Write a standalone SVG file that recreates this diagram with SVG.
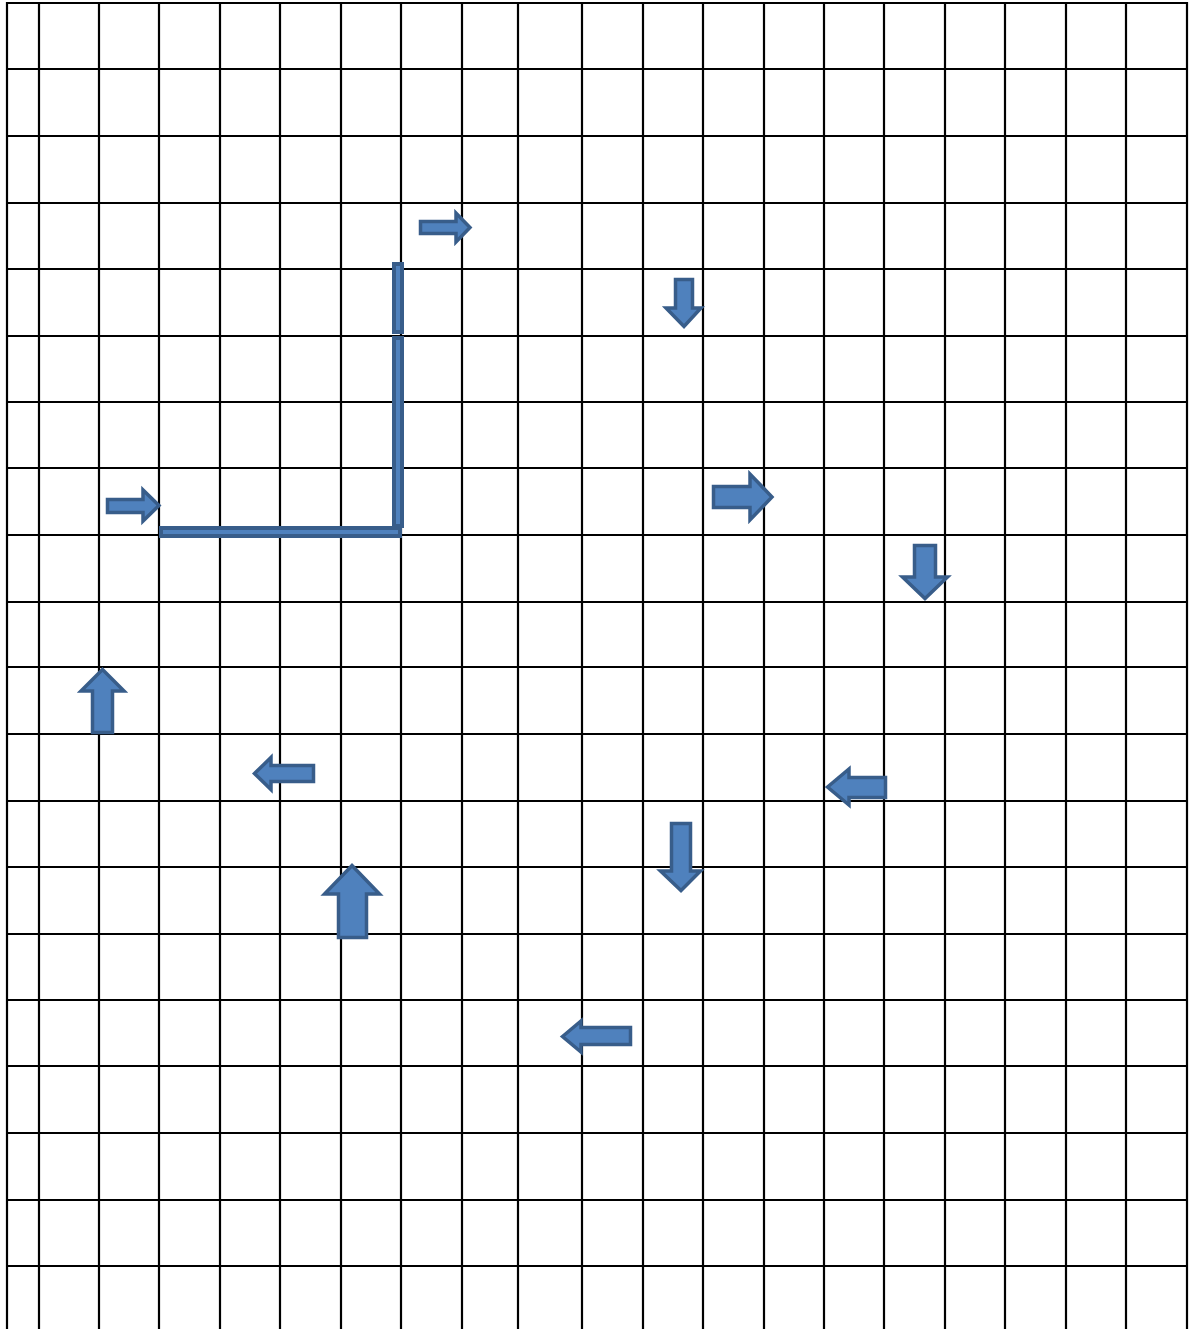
<svg xmlns="http://www.w3.org/2000/svg" width="1191" height="1329" viewBox="0 0 1191 1329">
<style>
.g line{stroke:#000;stroke-width:2.2}
.a{fill:#4F81BD;stroke:#385D8A;stroke-width:3.5;stroke-linejoin:miter}
.b{fill:#4F81BD;stroke:#385D8A;stroke-width:4}
</style>
<rect width="1191" height="1329" fill="#fff"/>
<g id="grid" class="g">
<line x1="7" y1="2" x2="7" y2="1329"/>
<line x1="39" y1="2" x2="39" y2="1329"/>
<line x1="99" y1="2" x2="99" y2="1329"/>
<line x1="159" y1="2" x2="159" y2="1329"/>
<line x1="220" y1="2" x2="220" y2="1329"/>
<line x1="280" y1="2" x2="280" y2="1329"/>
<line x1="341" y1="2" x2="341" y2="1329"/>
<line x1="401" y1="2" x2="401" y2="1329"/>
<line x1="462" y1="2" x2="462" y2="1329"/>
<line x1="518" y1="2" x2="518" y2="1329"/>
<line x1="582" y1="2" x2="582" y2="1329"/>
<line x1="643" y1="2" x2="643" y2="1329"/>
<line x1="703" y1="2" x2="703" y2="1329"/>
<line x1="764" y1="2" x2="764" y2="1329"/>
<line x1="824" y1="2" x2="824" y2="1329"/>
<line x1="884" y1="2" x2="884" y2="1329"/>
<line x1="945" y1="2" x2="945" y2="1329"/>
<line x1="1005" y1="2" x2="1005" y2="1329"/>
<line x1="1066" y1="2" x2="1066" y2="1329"/>
<line x1="1126" y1="2" x2="1126" y2="1329"/>
<line x1="1187" y1="2" x2="1187" y2="1329"/>
<line x1="6" y1="3" x2="1188" y2="3"/>
<line x1="6" y1="69" x2="1188" y2="69"/>
<line x1="6" y1="136" x2="1188" y2="136"/>
<line x1="6" y1="203" x2="1188" y2="203"/>
<line x1="6" y1="269" x2="1188" y2="269"/>
<line x1="6" y1="336" x2="1188" y2="336"/>
<line x1="6" y1="402" x2="1188" y2="402"/>
<line x1="6" y1="468" x2="1188" y2="468"/>
<line x1="6" y1="535" x2="1188" y2="535"/>
<line x1="6" y1="602" x2="1188" y2="602"/>
<line x1="6" y1="667" x2="1188" y2="667"/>
<line x1="6" y1="734" x2="1188" y2="734"/>
<line x1="6" y1="801" x2="1188" y2="801"/>
<line x1="6" y1="867" x2="1188" y2="867"/>
<line x1="6" y1="934" x2="1188" y2="934"/>
<line x1="6" y1="1000" x2="1188" y2="1000"/>
<line x1="6" y1="1066" x2="1188" y2="1066"/>
<line x1="6" y1="1133" x2="1188" y2="1133"/>
<line x1="6" y1="1200" x2="1188" y2="1200"/>
<line x1="6" y1="1266" x2="1188" y2="1266"/>
</g>
<g id="bars">
<rect id="bar-v1" class="b" x="394" y="264" width="8" height="68"/>
<rect id="bar-v2" class="b" x="394" y="338" width="8" height="188"/>
<rect id="bar-h" class="b" x="161" y="528" width="239" height="8"/>
</g>
<g id="arrows">
<path id="arrow-r1" class="a" d="M420.5,221.5 H456 V213 L470,227.5 L456,242 V233.5 H420.5 Z"/>
<path id="arrow-r2" class="a" d="M107.5,499.5 H143 V490 L159,505.5 L143,521 V512.5 H107.5 Z"/>
<path id="arrow-r3" class="a" d="M713.5,486.5 H750 V474 L772,497 L750,520 V507.5 H713.5 Z"/>
<path id="arrow-d1" class="a" d="M675.5,279.5 V308 H666 L684,326.5 L701,308 H692.5 V279.5 Z"/>
<path id="arrow-d2" class="a" d="M914.5,545.5 V577 H902.5 L925,598.5 L947.5,577 H935.5 V545.5 Z"/>
<path id="arrow-d3" class="a" d="M671.5,823.5 V871 H660.5 L681,890.5 L700.5,871 H690.5 V823.5 Z"/>
<path id="arrow-u1" class="a" d="M102.5,669.5 L124,691 H112.5 V732.5 H92.5 V691 H81 Z"/>
<path id="arrow-u2" class="a" d="M352,865.5 L379.5,894 H366.5 V937.5 H338.5 V894 H324.5 Z"/>
<path id="arrow-l1" class="a" d="M254.5,773.5 L271,757.5 V765.5 H313.5 V781.5 H271 V789.5 Z"/>
<path id="arrow-l2" class="a" d="M827.5,787 L849,769 V777.5 H885.5 V797.5 H849 V805 Z"/>
<path id="arrow-l3" class="a" d="M562.5,1036.5 L581,1021 V1027.5 H630.5 V1044.5 H581 V1052 Z"/>
</g>
</svg>
